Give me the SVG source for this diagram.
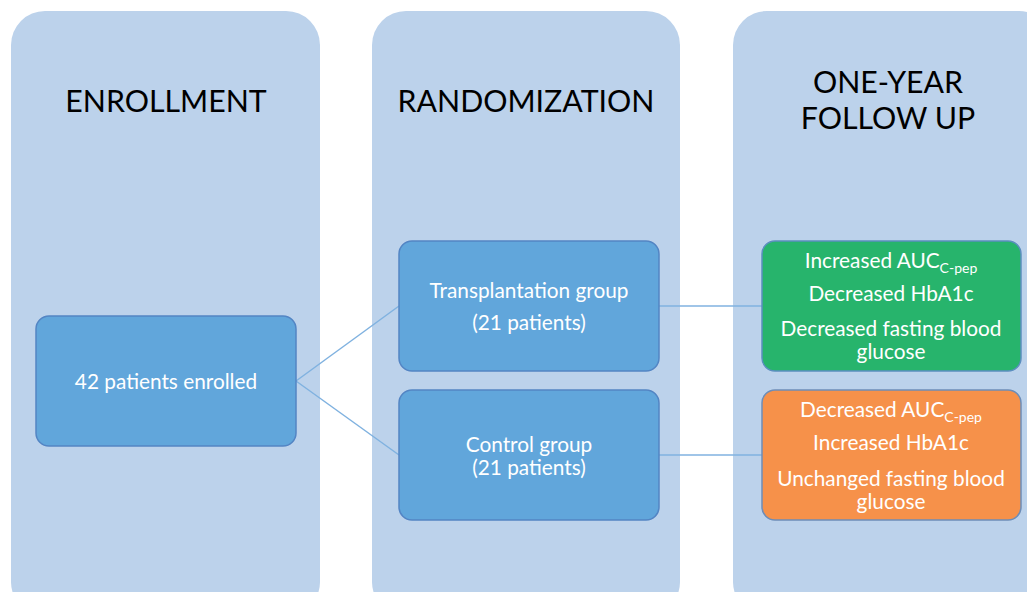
<svg xmlns="http://www.w3.org/2000/svg" width="1027" height="592" viewBox="0 0 1027 592">
<style>
.col{fill:#bcd2eb;}
.head{font-family:Lato,"Open Sans",sans-serif;font-size:30.3px;fill:#000;text-anchor:middle;}
.box{stroke-width:1.5;}
.blue{fill:#61a6db;stroke:#5385c4;}
.green{fill:#27b46c;stroke:#5b8fbf;}
.orange{fill:#f6914a;stroke:#6d8db8;}
.t{font-family:Lato,"Open Sans",sans-serif;font-size:20.8px;fill:#fff;text-anchor:middle;}
.sub{font-size:14px;}
.conn{stroke:#80b2e0;stroke-width:1.5;fill:none;}
</style>
<rect width="1027" height="592" fill="#fff"/>
<g id="col-enrollment">
<rect class="col" x="11" y="11" width="309" height="605" rx="34"/>
<text class="head" x="166" y="112">ENROLLMENT</text>
</g>
<g id="col-randomization">
<rect class="col" x="372" y="11" width="308" height="605" rx="34"/>
<text class="head" x="526" y="112">RANDOMIZATION</text>
</g>
<g id="col-followup">
<rect class="col" x="733" y="11" width="320" height="605" rx="34"/>
<text class="head" x="888" y="93">ONE-YEAR</text>
<text class="head" x="888" y="129">FOLLOW UP</text>
</g>
<g id="connectors">
<line class="conn" x1="296" y1="381" x2="399" y2="306"/>
<line class="conn" x1="296" y1="381" x2="399" y2="455"/>
<line class="conn" x1="659" y1="306" x2="762" y2="306"/>
<line class="conn" x1="659" y1="455" x2="762" y2="455"/>
</g>
<g id="node-enrolled">
<rect class="box blue" x="36" y="316" width="260" height="130" rx="13"/>
<text class="t" x="166" y="389">42 patients enrolled</text>
</g>
<g id="node-transplant">
<rect class="box blue" x="399" y="241" width="260" height="130" rx="13"/>
<text class="t" x="529" y="298">Transplantation group</text>
<text class="t" x="529" y="330">(21 patients)</text>
</g>
<g id="node-control">
<rect class="box blue" x="399" y="390" width="260" height="130" rx="13"/>
<text class="t" x="529" y="452">Control group</text>
<text class="t" x="529" y="475">(21 patients)</text>
</g>
<g id="node-green">
<rect class="box green" x="762" y="241" width="259" height="130" rx="13"/>
<text class="t" x="891" y="268">Increased AUC<tspan class="sub" dy="5">C-pep</tspan></text>
<text class="t" x="891" y="301">Decreased HbA1c</text>
<text class="t" x="891" y="336">Decreased fasting blood</text>
<text class="t" x="891" y="359">glucose</text>
</g>
<g id="node-orange">
<rect class="box orange" x="762" y="390" width="259" height="130" rx="13"/>
<text class="t" x="891" y="417">Decreased AUC<tspan class="sub" dy="5">C-pep</tspan></text>
<text class="t" x="891" y="450">Increased HbA1c</text>
<text class="t" x="891" y="486">Unchanged fasting blood</text>
<text class="t" x="891" y="509">glucose</text>
</g>
</svg>
